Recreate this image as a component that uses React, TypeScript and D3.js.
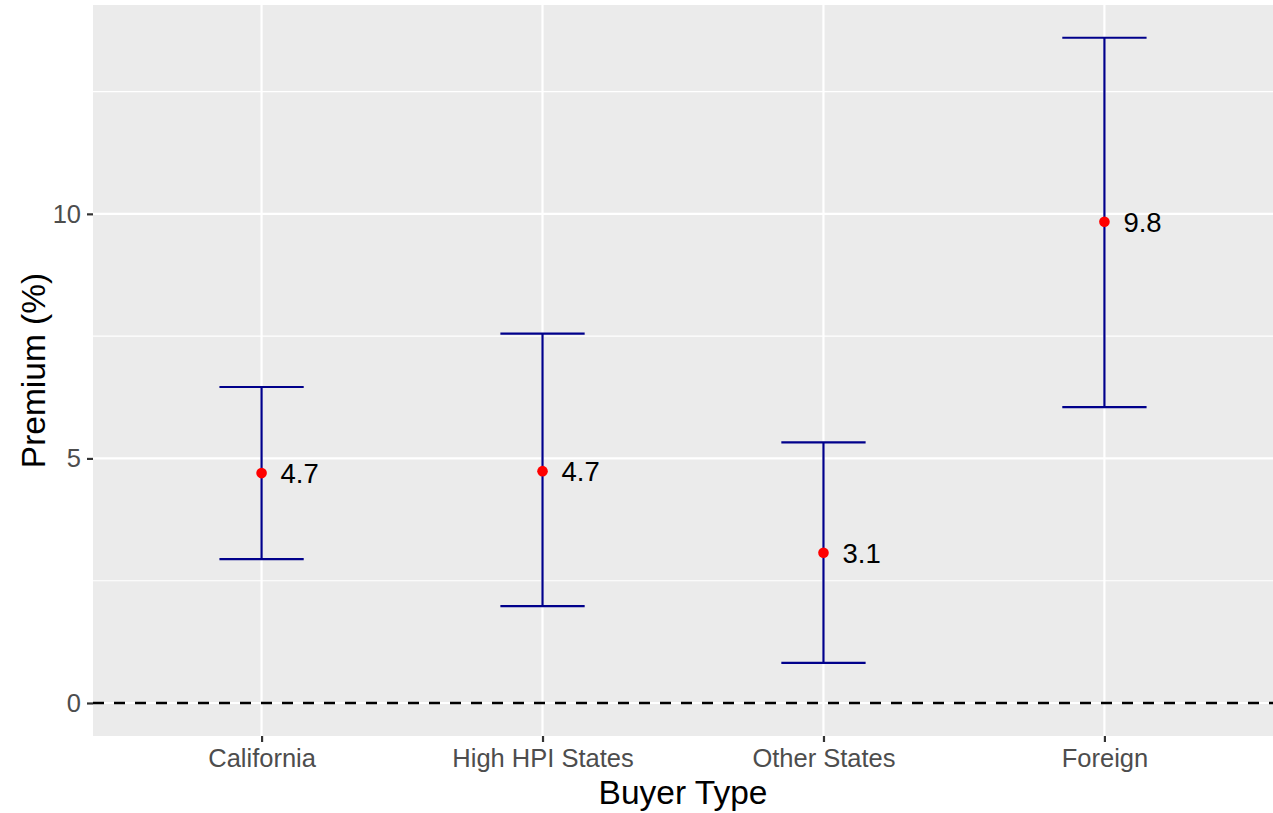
import React, { useEffect, useRef } from 'react';
import * as d3 from 'd3';

// buyer types and estimates
const categories = ['California', 'High HPI States', 'Other States', 'Foreign'];
const estimates = [4.7, 4.74, 3.07, 9.84];
const lowerBounds = [2.94, 1.98, 0.82, 6.05];
const upperBounds = [6.46, 7.55, 5.33, 13.6];
const yTicks = [0, 5, 10];
const yMinorTicks = [2.5, 7.5, 12.5];

const W = 1273;
const H = 813;

const App: React.FC = () => {
  const svgRef = useRef<SVGSVGElement>(null);

  useEffect(() => {
    if (!svgRef.current) return;
    const root = d3.select(svgRef.current);
    root.selectAll('*').remove();

    const panel = { left: 93, right: W, top: 5, bottom: 736 };
    const font = '"Liberation Sans", Arial, Helvetica, sans-serif';

    const x = d3.scalePoint<string>()
      .domain(categories)
      .range([panel.left, panel.right])
      .padding(0.6);
    const step = x.step();

    const y = d3.scaleLinear()
      .domain([-0.675, 14.27])
      .range([panel.bottom, panel.top]);

    const rows = categories.map((c, i) => ({
      cat: c, est: estimates[i], lo: lowerBounds[i], hi: upperBounds[i]
    }));

    // panel background
    root.append('rect')
      .attr('x', panel.left)
      .attr('y', panel.top)
      .attr('width', panel.right - panel.left)
      .attr('height', panel.bottom - panel.top)
      .attr('fill', '#EBEBEB');

    // grid
    root.append('g').selectAll('line')
      .data(yMinorTicks)
      .join('line')
      .attr('x1', panel.left).attr('x2', panel.right)
      .attr('y1', d => y(d)).attr('y2', d => y(d))
      .attr('stroke', '#fff').attr('stroke-width', 1.1);

    root.append('g').selectAll('line')
      .data(yTicks)
      .join('line')
      .attr('x1', panel.left).attr('x2', panel.right)
      .attr('y1', d => y(d)).attr('y2', d => y(d))
      .attr('stroke', '#fff').attr('stroke-width', 2.2);

    root.append('g').selectAll('line')
      .data(categories)
      .join('line')
      .attr('x1', d => x(d)!).attr('x2', d => x(d)!)
      .attr('y1', panel.top).attr('y2', panel.bottom)
      .attr('stroke', '#fff').attr('stroke-width', 2.2);

    // zero reference line
    root.append('line')
      .attr('x1', panel.left).attr('x2', panel.right)
      .attr('y1', y(0)).attr('y2', y(0))
      .attr('stroke', '#000')
      .attr('stroke-width', 2.4)
      .attr('stroke-dasharray', '11 10');

    // error bars
    const bars = root.append('g')
      .attr('stroke', '#00008B')
      .attr('stroke-width', 2.2)
      .attr('fill', 'none');
    const half = step * 0.15;

    bars.selectAll('line.v')
      .data(rows)
      .join('line')
      .attr('class', 'v')
      .attr('x1', d => x(d.cat)!).attr('x2', d => x(d.cat)!)
      .attr('y1', d => y(d.lo)).attr('y2', d => y(d.hi));
    bars.selectAll('line.top')
      .data(rows)
      .join('line')
      .attr('class', 'top')
      .attr('x1', d => x(d.cat)! - half).attr('x2', d => x(d.cat)! + half)
      .attr('y1', d => y(d.hi)).attr('y2', d => y(d.hi));
    bars.selectAll('line.bot')
      .data(rows)
      .join('line')
      .attr('class', 'bot')
      .attr('x1', d => x(d.cat)! - half).attr('x2', d => x(d.cat)! + half)
      .attr('y1', d => y(d.lo)).attr('y2', d => y(d.lo));

    // points
    root.append('g').selectAll('circle')
      .data(rows)
      .join('circle')
      .attr('cx', d => x(d.cat)!)
      .attr('cy', d => y(d.est))
      .attr('r', 5.3)
      .attr('fill', '#FF0000');

    // value labels
    root.append('g').selectAll('text')
      .data(rows)
      .join('text')
      .attr('x', d => x(d.cat)! + 19)
      .attr('y', d => y(d.est))
      .attr('dy', '0.36em')
      .attr('font-family', font)
      .attr('font-size', 27.5)
      .attr('fill', '#000')
      .text(d => d3.format('.1f')(d.est));

    // y axis
    const yAxis = root.append('g')
      .attr('transform', `translate(${panel.left},0)`)
      .call(d3.axisLeft(y).tickValues(yTicks).tickSize(6).tickPadding(6).tickFormat(d3.format('d')));
    yAxis.select('.domain').remove();
    yAxis.selectAll('.tick line').attr('stroke', '#333333').attr('stroke-width', 2.2);
    yAxis.selectAll('.tick text')
      .attr('font-family', font)
      .attr('font-size', 25.5)
      .attr('fill', '#4D4D4D');

    // x axis
    const xAxis = root.append('g')
      .attr('transform', `translate(0,${panel.bottom})`)
      .call(d3.axisBottom(x).tickSize(6).tickPadding(7));
    xAxis.select('.domain').remove();
    xAxis.selectAll('.tick line').attr('stroke', '#333333').attr('stroke-width', 2.2);
    xAxis.selectAll('.tick text')
      .attr('font-family', font)
      .attr('font-size', 25.5)
      .attr('fill', '#4D4D4D');

    // axis titles
    root.append('text')
      .attr('x', (panel.left + panel.right) / 2)
      .attr('y', 804)
      .attr('text-anchor', 'middle')
      .attr('font-family', font)
      .attr('font-size', 33.5)
      .attr('fill', '#000')
      .text('Buyer Type');

    root.append('text')
      .attr('transform', `translate(45,${(panel.top + panel.bottom) / 2}) rotate(-90)`)
      .attr('text-anchor', 'middle')
      .attr('font-family', font)
      .attr('font-size', 33.5)
      .attr('fill', '#000')
      .text('Premium (%)');
  }, []);

  return (
    <svg
      ref={svgRef}
      width={W}
      height={H}
      style={{ position: 'absolute', left: 0, top: 0, background: '#fff', display: 'block' }}
    />
  );
};

export default App;
